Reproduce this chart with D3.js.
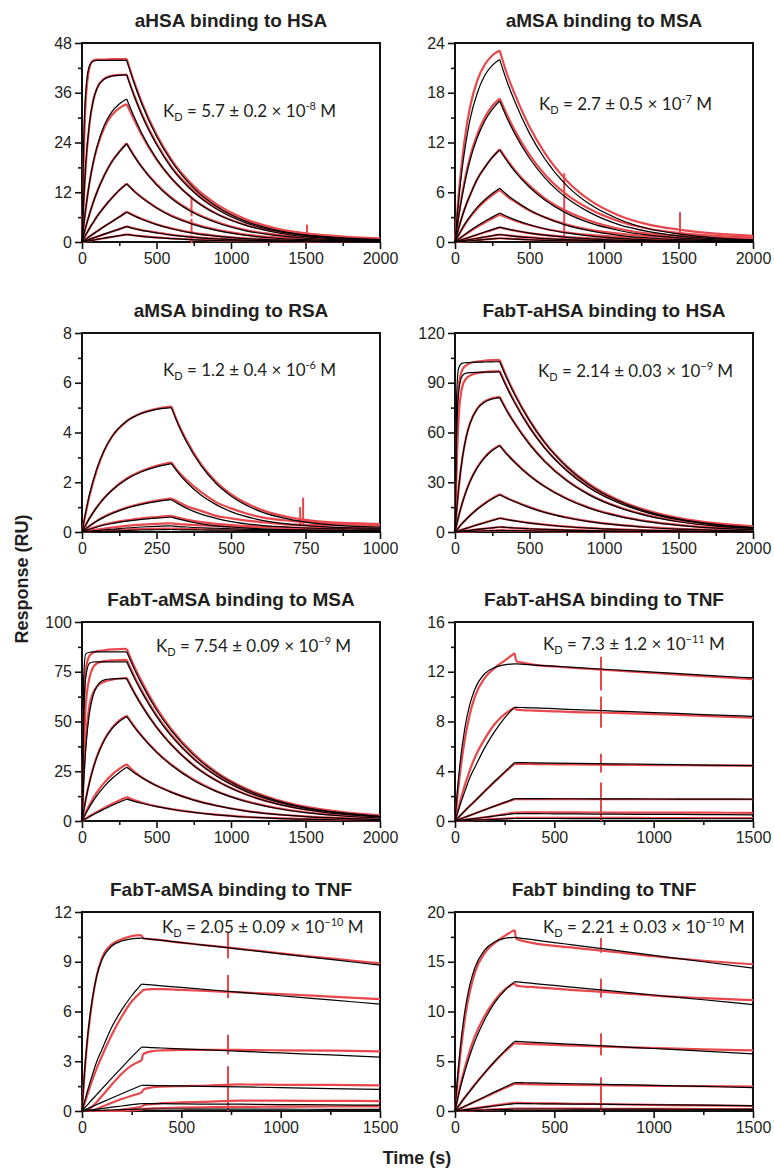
<!DOCTYPE html>
<html>
<head>
<meta charset="utf-8">
<script src="https://cdnjs.cloudflare.com/ajax/libs/d3/7.8.5/d3.min.js"></script>
<style>
body{margin:0;background:#fff;}
svg text{font-family:"Liberation Sans",Arial,sans-serif;fill:#231f20;}
.title{font-weight:bold;font-size:19px;}
.label{font-weight:bold;font-size:18px;}
.kd{font-family:Lato,"Open Sans",sans-serif;font-size:17px;}
</style>
</head>
<body>
<svg id="sensorgrams"></svg>
<script>

// panel titles and the K_D annotation of each panel
var titles = ["aHSA binding to HSA","aMSA binding to MSA","aMSA binding to RSA","FabT-aHSA binding to HSA",
              "FabT-aMSA binding to MSA","FabT-aHSA binding to TNF","FabT-aMSA binding to TNF","FabT binding to TNF"];
var kdValue = ["5.7 \u00b1 0.2","2.7 \u00b1 0.5","1.2 \u00b1 0.4","2.14 \u00b1 0.03",
               "7.54 \u00b1 0.09","7.3 \u00b1 1.2","2.05 \u00b1 0.09","2.21 \u00b1 0.03"];
var kdExp = ["-8","-7","-6","\u22129","\u22129","\u221211","\u221210","\u221210"];

// axis ranges
var xMax = [2000,2000,1000,2000,2000,1500,1500,1500];
var xStep = [500,500,250,500,500,500,500,500];
var yMax = [48,24,8,120,100,16,12,20];
var yStep = [12,6,2,30,25,4,3,5];

// end of injection (s)
var tInject = 300;

// sampling times (s)
var tLong = [0,10,25,50,75,100,150,200,250,300,350,400,500,600,750,900,1100,1300,1500,1750,2000];
var tShort = [0,10,25,50,75,100,150,200,250,300,325,350,400,450,500,600,700,800,900,1000];
var tTnf = [0,10,25,50,75,100,150,200,250,300,310,350,400,500,600,800,1000,1250,1500];

// aHSA -> HSA (RU)
var fit1 = [
 [0,22.0,36.2,42.5,43.6,43.8,43.8,43.8,43.8,43.8,38.3,33.4,25.5,19.5,13.0,8.7,5.0,2.9,1.7,1.0,0.6],
 [0,8.9,18.7,28.7,34.1,37.0,39.3,40.0,40.2,40.3,35.2,30.7,23.5,17.9,12.0,8.0,4.6,2.7,1.6,0.9,0.5],
 [0,3.5,8.0,14.3,19.2,22.9,28.2,31.4,33.3,34.5,30.2,26.3,20.1,15.4,10.2,6.8,4.0,2.3,1.3,0.7,0.35],
 [0,1.5,3.6,6.7,9.5,12.0,16.1,19.3,21.7,23.7,20.7,18.1,13.8,10.5,7.0,4.7,2.7,1.6,0.9,0.5,0.25],
 [0,0.7,1.7,3.3,4.7,6.1,8.5,10.6,12.5,14.0,12.2,10.7,8.2,6.2,4.2,2.8,1.6,0.9,0.55,0.3,0.14],
 [0,0.27,0.66,1.3,1.95,2.55,3.75,4.9,6.05,7.2,6.3,5.5,4.2,3.2,2.1,1.4,0.8,0.5,0.3,0.15,0.07],
 [0,0.13,0.32,0.64,0.96,1.28,1.9,2.5,3.1,3.7,3.2,2.8,2.2,1.65,1.1,0.73,0.43,0.25,0.14,0.07,0.04],
 [0,0.06,0.15,0.31,0.46,0.62,0.92,1.22,1.51,1.8,1.57,1.37,1.05,0.8,0.53,0.36,0.21,0.12,0.07,0.04,0.02]];
var obs1 = [
 [0,18,34,42,43.8,44.0,44.0,44.1,44.1,44.2,38.6,33.8,25.9,19.9,13.5,9.2,5.5,3.3,2.1,1.3,0.85],
 [0,8.5,18.2,28.4,34.0,37.0,39.4,40.1,40.3,40.4,35.4,31.0,23.8,18.2,12.4,8.4,5.0,3.1,2.0,1.2,0.8],
 [0,3.5,8.0,14.2,19.0,22.6,27.6,30.6,32.3,33.3,29.5,25.9,19.9,15.3,10.3,6.9,4.1,2.5,1.6,1.0,0.7],
 [0,1.5,3.6,6.7,9.5,12.0,16.1,19.4,21.8,23.8,20.8,18.2,14.0,10.7,7.2,4.9,2.9,1.8,1.1,0.7,0.5],
 [0,0.7,1.7,3.3,4.7,6.1,8.5,10.6,12.5,14.1,12.3,10.8,8.3,6.4,4.4,3.0,1.8,1.1,0.7,0.45,0.35],
 [0,0.27,0.66,1.3,1.95,2.55,3.75,4.9,6.05,7.3,6.4,5.6,4.3,3.3,2.2,1.5,0.9,0.6,0.4,0.3,0.25],
 [0,0.13,0.32,0.64,0.96,1.28,1.9,2.5,3.1,3.8,3.3,2.9,2.3,1.75,1.2,0.8,0.5,0.3,0.2,0.15,0.12],
 [0,0.06,0.15,0.31,0.46,0.62,0.92,1.22,1.51,1.85,1.6,1.4,1.1,0.85,0.58,0.4,0.25,0.15,0.1,0.08,0.06]];

// aMSA -> MSA
var fit2 = [
 [0,2.2,5.1,9.1,12.2,14.7,18.0,20.1,21.3,22.0,19.3,17.0,13.1,10.1,6.8,4.6,2.75,1.6,0.97,0.5,0.26],
 [0,1.3,3.1,5.7,7.9,9.8,12.6,14.6,16.0,17.0,14.9,13.1,10.1,7.8,5.3,3.6,2.1,1.26,0.75,0.39,0.2],
 [0,0.7,1.7,3.2,4.5,5.6,7.6,9.0,10.2,11.1,9.75,8.55,6.6,5.1,3.45,2.33,1.39,0.82,0.49,0.26,0.13],
 [0,0.36,0.89,1.69,2.42,3.07,4.2,5.1,5.85,6.5,5.7,5.0,3.87,2.98,2.0,1.37,0.81,0.48,0.29,0.15,0.08],
 [0,0.15,0.36,0.7,1.03,1.35,1.95,2.5,3.0,3.5,3.07,2.7,2.08,1.6,1.09,0.74,0.44,0.26,0.15,0.08,0.04],
 [0,0.06,0.15,0.3,0.45,0.6,0.9,1.2,1.5,1.8,1.58,1.39,1.07,0.82,0.56,0.38,0.23,0.13,0.08,0.04,0.02],
 [0,0.03,0.08,0.15,0.23,0.3,0.45,0.6,0.75,0.9,0.79,0.69,0.54,0.41,0.28,0.19,0.11,0.07,0.04,0.02,0.01],
 [0,0.015,0.04,0.075,0.11,0.15,0.23,0.3,0.38,0.45,0.4,0.35,0.27,0.2,0.14,0.1,0.06,0.03,0.02,0.01,0.005]];
var obs2 = [
 [0,2.5,5.8,10.2,13.6,16.2,19.5,21.4,22.5,23.1,20.2,17.9,13.9,10.8,7.4,5.1,3.2,2.1,1.5,1.0,0.75],
 [0,1.4,3.3,6.0,8.3,10.2,13.0,15.0,16.4,17.3,15.3,13.5,10.5,8.2,5.7,4.0,2.5,1.6,1.1,0.75,0.55],
 [0,0.7,1.7,3.2,4.5,5.6,7.6,9.0,10.2,11.2,9.9,8.7,6.8,5.3,3.7,2.6,1.6,1.0,0.75,0.55,0.45],
 [0,0.34,0.85,1.62,2.33,2.96,4.05,4.93,5.66,6.3,5.5,4.9,3.8,3.0,2.1,1.5,1.0,0.7,0.55,0.45,0.4],
 [0,0.14,0.34,0.66,0.97,1.27,1.84,2.36,2.83,3.3,2.95,2.6,2.05,1.6,1.15,0.85,0.6,0.45,0.4,0.35,0.3],
 [0,0.06,0.15,0.3,0.44,0.58,0.88,1.17,1.46,1.75,1.55,1.38,1.08,0.85,0.6,0.45,0.32,0.25,0.22,0.2,0.18],
 [0,0.03,0.08,0.15,0.23,0.3,0.45,0.6,0.75,0.9,0.8,0.7,0.56,0.45,0.33,0.25,0.18,0.15,0.13,0.12,0.11],
 [0,0.015,0.04,0.075,0.11,0.15,0.23,0.3,0.38,0.45,0.4,0.36,0.29,0.23,0.17,0.13,0.1,0.08,0.07,0.07,0.06]];

// aMSA -> RSA
var fit3 = [
 [0,0.66,1.5,2.56,3.3,3.83,4.46,4.77,4.93,5.0,4.26,3.64,2.66,1.95,1.45,0.82,0.5,0.33,0.24,0.2],
 [0,0.23,0.55,1.0,1.37,1.67,2.12,2.42,2.62,2.75,2.35,2.01,1.48,1.1,0.82,0.48,0.31,0.22,0.17,0.15],
 [0,0.1,0.24,0.44,0.6,0.74,0.96,1.11,1.22,1.3,1.12,0.96,0.72,0.55,0.42,0.27,0.19,0.14,0.12,0.11],
 [0,0.05,0.11,0.2,0.28,0.34,0.44,0.51,0.56,0.6,0.52,0.45,0.33,0.25,0.2,0.13,0.09,0.07,0.06,0.055],
 [0,0.01,0.03,0.06,0.09,0.11,0.16,0.2,0.23,0.25,0.22,0.2,0.17,0.15,0.13,0.1,0.08,0.07,0.06,0.05],
 [0,0.004,0.01,0.02,0.03,0.04,0.06,0.08,0.09,0.1,0.09,0.085,0.08,0.075,0.07,0.06,0.055,0.05,0.05,0.05]];
var obs3 = [
 [0,0.6,1.45,2.5,3.28,3.82,4.45,4.78,4.95,5.05,4.3,3.7,2.72,2.02,1.52,0.9,0.58,0.42,0.35,0.3],
 [0,0.22,0.55,1.0,1.38,1.68,2.15,2.45,2.66,2.8,2.4,2.1,1.6,1.2,0.95,0.6,0.45,0.38,0.35,0.32],
 [0,0.1,0.24,0.45,0.62,0.76,0.98,1.14,1.26,1.35,1.2,1.05,0.85,0.65,0.55,0.4,0.3,0.28,0.3,0.28],
 [0,0.05,0.12,0.22,0.3,0.37,0.47,0.55,0.6,0.65,0.57,0.5,0.4,0.33,0.28,0.22,0.18,0.17,0.18,0.17],
 [0,0.02,0.05,0.1,0.14,0.18,0.25,0.3,0.33,0.35,0.32,0.3,0.27,0.24,0.22,0.19,0.16,0.15,0.15,0.14],
 [0,0.01,0.02,0.04,0.06,0.08,0.1,0.12,0.13,0.14,0.13,0.12,0.11,0.1,0.1,0.09,0.08,0.08,0.08,0.08]];

// FabT-aHSA -> HSA
var fit4 = [
 [0,80,99,101.8,102.1,102.2,102.4,102.5,102.6,102.7,92.2,82.9,67.0,54.0,39.2,28.4,18.6,12.1,7.9,4.6,2.7],
 [0,55,85,94.3,95.8,96.1,96.3,96.4,96.4,96.5,86.7,77.9,62.9,50.8,36.9,26.7,17.5,11.4,7.4,4.3,2.5],
 [0,12.1,27.0,45.0,57.1,65.2,74.3,78.4,80.2,81.0,72.7,65.4,52.8,42.6,30.9,22.4,14.7,9.6,6.2,3.6,2.1],
 [0,4.1,9.7,17.8,24.5,30.2,38.8,44.9,49.1,52.0,46.7,42.0,33.9,27.4,19.9,14.4,9.4,6.1,4.0,2.3,1.35],
 [0,1.1,2.7,5.3,7.6,9.8,13.7,17.1,20.0,22.5,20.2,18.2,14.7,11.8,8.6,6.2,4.1,2.7,1.7,1.0,0.6],
 [0,0.3,0.74,1.47,2.18,2.88,4.3,5.6,6.95,8.3,7.45,6.7,5.4,4.37,3.17,2.3,1.5,0.98,0.64,0.37,0.22],
 [0,0.1,0.26,0.52,0.77,1.02,1.53,2.02,2.52,3.0,2.7,2.42,1.96,1.58,1.15,0.83,0.54,0.35,0.23,0.13,0.08],
 [0,0.03,0.08,0.17,0.25,0.34,0.5,0.67,0.84,1.0,0.9,0.81,0.65,0.53,0.38,0.28,0.18,0.12,0.08,0.05,0.03]];
var obs4 = [
 [0,55,88,98,100.5,101.8,102.8,103.3,103.6,103.8,93,83.5,67.5,54.5,39.8,29,19.2,12.8,8.6,5.3,3.4],
 [0,35,70,88,92.5,94.3,95.8,96.5,96.9,97.1,87.3,78.5,63.4,51.2,37.3,27.1,17.9,11.8,7.8,4.7,2.9],
 [0,11.5,26.5,45.0,57.3,65.5,74.6,78.8,80.7,81.5,73.1,65.8,53.2,43.0,31.3,22.8,15.0,9.9,6.5,3.9,2.4],
 [0,4.0,9.7,17.9,24.7,30.5,39.2,45.3,49.5,52.4,47.0,42.3,34.2,27.7,20.2,14.7,9.7,6.4,4.3,2.6,1.6],
 [0,1.1,2.7,5.4,7.7,10.0,14.0,17.4,20.3,22.8,20.5,18.5,15.0,12.1,8.8,6.4,4.3,2.9,1.9,1.2,0.8],
 [0,0.3,0.75,1.5,2.2,2.9,4.35,5.7,7.05,8.4,7.55,6.8,5.5,4.45,3.25,2.4,1.6,1.05,0.7,0.45,0.3],
 [0,0.1,0.26,0.52,0.77,1.02,1.53,2.02,2.52,3.0,2.7,2.42,1.96,1.58,1.15,0.85,0.56,0.38,0.26,0.17,0.12],
 [0,0.03,0.08,0.17,0.25,0.34,0.5,0.67,0.84,1.0,0.9,0.81,0.66,0.54,0.4,0.3,0.2,0.14,0.1,0.07,0.05]];

// FabT-aMSA -> MSA
var fit5 = [
 [0,70,84,84.8,85,85,85,85,85,85,76.5,68.9,55.8,45.3,33.1,24.1,15.8,10.4,6.8,4.1,2.4],
 [0,45,72,79.3,79.9,80,80,80,80,80,72,64.9,52.6,42.6,31.1,22.7,14.9,9.8,6.4,3.8,2.2],
 [0,17.6,36.2,54.2,63.2,67.6,70.9,71.4,71.5,71.5,64.4,58.0,47.0,38.1,27.8,20.3,13.3,8.7,5.7,3.4,2.0],
 [0,4.5,10.6,19.3,26.3,32.1,40.6,46.3,50.0,52.5,47.3,42.6,34.5,28.0,20.4,14.9,9.8,6.4,4.2,2.5,1.5],
 [0,1.5,3.7,7.0,10.0,12.7,17.4,21.2,24.4,27.0,24.3,21.9,17.7,14.4,10.5,7.7,5.0,3.3,2.2,1.3,0.75],
 [0,0.45,1.1,2.15,3.15,4.15,6.0,7.8,9.45,11.0,9.9,8.9,7.2,5.9,4.3,3.1,2.0,1.3,0.9,0.5,0.3]];
var obs5 = [
 [0,50,76,83,84.6,85.3,85.8,86.2,86.4,86.5,77.8,70.2,56.9,46.2,33.8,24.7,16.3,10.8,7.2,4.5,2.9],
 [0,30,58,72,77.3,79.2,80.3,80.7,80.9,81,72.9,65.7,53.2,43.2,31.5,23,15.1,9.9,6.5,3.9,2.3],
 [0,20,40,58,64.5,67.5,70,71,71.6,72,64.8,58.4,47.3,38.4,28.0,20.5,13.4,8.8,5.8,3.5,2.1],
 [0,4.6,10.8,19.6,26.7,32.5,41.0,46.7,50.4,52.9,47.6,42.9,34.8,28.3,20.7,15.1,10.0,6.6,4.4,2.7,1.7],
 [0,1.8,4.3,8.0,11.4,14.4,19.3,23.2,26.2,28.5,24.8,22.0,17.8,14.5,10.6,7.8,5.1,3.4,2.3,1.4,0.85],
 [0,0.5,1.2,2.4,3.5,4.55,6.6,8.55,10.35,12.0,10.5,9.3,7.4,6.0,4.4,3.2,2.1,1.4,0.95,0.6,0.4]];

// FabT-aHSA -> TNF
var fit6 = [
 [0,2.1,4.6,7.5,9.4,10.6,11.85,12.35,12.56,12.64,12.63,12.59,12.54,12.45,12.35,12.16,11.97,11.73,11.5],
 [0,0.51,1.25,2.4,3.5,4.32,5.9,7.2,8.3,9.15,9.14,9.12,9.09,9.03,8.96,8.84,8.72,8.56,8.42],
 [0,0.17,0.42,0.83,1.22,1.6,2.4,3.2,3.95,4.7,4.7,4.69,4.68,4.66,4.64,4.6,4.56,4.5,4.45],
 [0,0.06,0.15,0.3,0.45,0.6,0.9,1.2,1.5,1.8,1.8,1.8,1.8,1.79,1.79,1.78,1.77,1.76,1.75],
 [0,0.02,0.05,0.1,0.15,0.2,0.3,0.4,0.5,0.6,0.6,0.6,0.59,0.58,0.57,0.55,0.53,0.52,0.5],
 [0,0.007,0.017,0.035,0.05,0.07,0.1,0.13,0.17,0.2,0.2,0.2,0.2,0.2,0.19,0.19,0.19,0.18,0.18]];
var obs6 = [
 [0,1.6,3.8,6.6,8.6,10.0,11.5,12.3,12.9,13.5,12.85,12.7,12.55,12.42,12.3,12.1,11.9,11.65,11.4],
 [0,0.6,1.5,2.9,4.1,5.1,6.6,7.8,8.6,9.1,8.95,8.9,8.88,8.82,8.76,8.7,8.6,8.45,8.3],
 [0,0.17,0.42,0.83,1.22,1.6,2.4,3.15,3.9,4.6,4.6,4.6,4.58,4.56,4.55,4.52,4.5,4.47,4.45],
 [0,0.06,0.15,0.3,0.45,0.6,0.9,1.2,1.48,1.75,1.75,1.76,1.76,1.76,1.75,1.75,1.75,1.75,1.75],
 [0,0.02,0.05,0.1,0.15,0.2,0.3,0.42,0.55,0.68,0.68,0.69,0.69,0.69,0.69,0.68,0.68,0.67,0.66],
 [0,0.01,0.02,0.04,0.06,0.08,0.12,0.16,0.2,0.24,0.25,0.25,0.25,0.25,0.25,0.25,0.24,0.24,0.24]];

// FabT-aMSA -> TNF
var fit7 = [
 [0,1.9,4.1,6.6,8.2,9.1,9.95,10.25,10.38,10.42,10.41,10.35,10.29,10.15,10.02,9.75,9.48,9.14,8.8],
 [0,0.45,1.1,2.1,3.0,3.7,5.06,6.1,6.95,7.65,7.64,7.6,7.55,7.45,7.35,7.15,6.95,6.7,6.45],
 [0,0.14,0.34,0.68,1.0,1.33,1.98,2.62,3.25,3.85,3.85,3.82,3.8,3.75,3.7,3.6,3.5,3.38,3.25],
 [0,0.05,0.13,0.26,0.39,0.52,0.78,1.04,1.3,1.55,1.55,1.54,1.53,1.51,1.49,1.45,1.41,1.35,1.3],
 [0,0.015,0.04,0.075,0.11,0.15,0.23,0.3,0.38,0.45,0.45,0.45,0.44,0.43,0.42,0.41,0.39,0.37,0.35],
 [0,0.004,0.01,0.02,0.03,0.04,0.06,0.08,0.1,0.12,0.12,0.12,0.12,0.12,0.11,0.11,0.11,0.1,0.1]];
var obs7 = [
 [0,1.8,4.0,6.5,8.2,9.2,10.05,10.35,10.55,10.6,10.4,10.36,10.3,10.15,10.02,9.78,9.5,9.2,8.9],
 [0,0.35,0.9,1.8,2.6,3.3,4.6,5.7,6.6,7.2,7.3,7.35,7.35,7.3,7.25,7.15,7.05,6.9,6.75],
 [0,0,0.05,0.25,0.55,0.9,1.6,2.25,2.75,3.05,3.45,3.6,3.65,3.68,3.68,3.68,3.66,3.64,3.6],
 [0,0,0,0.02,0.12,0.25,0.5,0.72,0.92,1.1,1.3,1.42,1.47,1.5,1.52,1.6,1.58,1.57,1.55],
 [0,0,0,0,0,0,0.02,0.08,0.16,0.25,0.35,0.42,0.47,0.52,0.55,0.62,0.62,0.61,0.6],
 [0,0,0,0,0,0,0,0.01,0.04,0.08,0.12,0.15,0.18,0.2,0.22,0.25,0.26,0.27,0.28]];

// FabT -> TNF
var fit8 = [
 [0,2.75,6.1,10.1,12.7,14.4,16.2,17.0,17.35,17.45,17.42,17.32,17.19,16.93,16.68,16.16,15.64,15.0,14.35],
 [0,0.9,2.2,4.0,5.6,7.0,9.2,10.9,12.1,13.0,12.98,12.9,12.81,12.62,12.43,12.04,11.66,11.18,10.7],
 [0,0.28,0.69,1.36,2.0,2.63,3.85,5.0,6.05,7.0,6.99,6.95,6.9,6.8,6.7,6.49,6.28,6.02,5.75],
 [0,0.1,0.24,0.48,0.72,0.96,1.44,1.92,2.39,2.85,2.85,2.84,2.82,2.78,2.74,2.66,2.58,2.47,2.35],
 [0,0.025,0.06,0.13,0.19,0.25,0.38,0.5,0.63,0.75,0.75,0.74,0.73,0.72,0.7,0.67,0.63,0.59,0.55],
 [0,0.007,0.017,0.035,0.05,0.07,0.1,0.13,0.17,0.2,0.2,0.2,0.2,0.2,0.19,0.19,0.18,0.17,0.16]];
var obs8 = [
 [0,2.3,5.3,9.3,12.0,13.9,15.9,16.9,17.6,18.2,17.3,17.05,16.85,16.6,16.4,16.0,15.55,15.1,14.75],
 [0,1.0,2.4,4.4,6.1,7.5,9.6,11.1,12.2,12.85,12.6,12.5,12.45,12.3,12.15,11.9,11.6,11.35,11.15],
 [0,0.28,0.7,1.38,2.03,2.66,3.85,4.95,5.95,6.85,6.8,6.75,6.72,6.65,6.58,6.45,6.33,6.2,6.1],
 [0,0.1,0.24,0.47,0.7,0.93,1.39,1.85,2.3,2.75,2.72,2.7,2.68,2.65,2.62,2.58,2.53,2.49,2.45],
 [0,0.03,0.07,0.14,0.21,0.28,0.42,0.56,0.7,0.82,0.82,0.8,0.78,0.76,0.73,0.68,0.62,0.56,0.5],
 [0,0.01,0.02,0.04,0.06,0.08,0.12,0.16,0.2,0.24,0.24,0.24,0.24,0.23,0.23,0.22,0.21,0.2,0.2]];

// injection artefacts in the raw traces: [time, low, high]
var spikes = [
 [[735,6.2,10.6],[735,2.0,5.6],[735,-0.3,1.6],[1510,1.4,4.2]],
 [[733,0,8.3],[1510,0.8,3.6]],
 [[732,0.3,1.0],[742,0.3,1.38]],
 [],
 [],
 [[735,10.5,13.2],[735,7.5,10.0],[735,3.9,5.4],[735,0,3.1]],
 [[735,9.2,10.8],[735,6.8,8.2],[735,3.4,4.6],[735,0,2.7]],
 [[735,15.9,17.4],[735,11.4,13.3],[735,5.6,7.8],[735,0,3.4]]];

var times = [tLong,tLong,tShort,tLong,tLong,tTnf,tTnf,tTnf];
var fits = [fit1,fit2,fit3,fit4,fit5,fit6,fit7,fit8];
var observed = [obs1,obs2,obs3,obs4,obs5,obs6,obs7,obs8];

// layout
var screen = {width:774, height:1173};
var graph = {width:298, height:199};
var colLeft = [82,455];
var rowTop = [43,333,622,912];
var kdPos = [[81,74],[84,67],[81,43],[83,44],[74,30],[88,28],[80,21],[88,21]];

var svg = d3.select("#sensorgrams")
    .attr("width",screen.width)
    .attr("height",screen.height)
    .style("background","#fff");

var initGraph = function(i)
{
    var left = colLeft[i%2];
    var top = rowTop[Math.floor(i/2)];

    var g = svg.append("g")
        .classed("graph",true)
        .attr("transform","translate("+left+","+top+")");

    var xScale = d3.scaleLinear()
        .domain([0,xMax[i]])
        .range([0,graph.width]);

    var yScale = d3.scaleLinear()
        .domain([0,yMax[i]])
        .range([graph.height,0]);

    createAxes(g,i,xScale,yScale);
    drawCurves(g,i,xScale,yScale);
    createLabels(g,i);
}

var createAxes = function(g,i,xScale,yScale)
{
    var xMajor = d3.range(0,xMax[i]+1,xStep[i]);
    var xMinor = d3.range(xStep[i]/2,xMax[i],xStep[i]);
    var yMajor = d3.range(0,yMax[i]+0.001,yStep[i]);
    var yMinor = d3.range(yStep[i]/2,yMax[i],yStep[i]);

    g.append("g")
        .attr("transform","translate(0,"+graph.height+")")
        .call(d3.axisBottom(xScale).tickValues(xMajor).tickSize(7).tickPadding(4).tickSizeOuter(0).tickFormat(d3.format("d")));
    g.append("g")
        .attr("transform","translate(0,"+graph.height+")")
        .call(d3.axisBottom(xScale).tickValues(xMinor).tickSize(4).tickSizeOuter(0).tickFormat(""))
        .select(".domain").remove();

    g.append("g")
        .call(d3.axisLeft(yScale).tickValues(yMajor).tickSize(7).tickPadding(3).tickSizeOuter(0).tickFormat(d3.format("d")));
    g.append("g")
        .call(d3.axisLeft(yScale).tickValues(yMinor).tickSize(4).tickSizeOuter(0).tickFormat(""))
        .select(".domain").remove();

    g.selectAll(".tick line").attr("stroke","#111").attr("stroke-width",1.6);
    g.selectAll(".tick text")
        .attr("font-size",16)
        .attr("font-family","'Liberation Sans', Arial, sans-serif")
        .attr("fill","#231f20");

    g.append("rect")
        .attr("width",graph.width)
        .attr("height",graph.height)
        .attr("fill","none")
        .attr("stroke","#111")
        .attr("stroke-width",2);
}

var drawCurves = function(g,i,xScale,yScale)
{
    var line = d3.line()
        .x(function(d){return xScale(d[0]);})
        .y(function(d){return yScale(d[1]);})
        .curve(d3.curveMonotoneX);

    // association and dissociation drawn as separate pieces so the kink at the end of injection stays sharp
    var pieces = function(vals)
    {
        var pts = times[i].map(function(t,k){return [t,vals[k]];});
        return [pts.filter(function(p){return p[0]<=tInject;}),
                pts.filter(function(p){return p[0]>=tInject;})];
    }

    var red = g.append("g").classed("observed",true);
    observed[i].forEach(function(vals)
    {
        red.selectAll(null)
            .data(pieces(vals))
            .enter()
            .append("path")
            .attr("d",line)
            .attr("fill","none")
            .attr("stroke","#e8474c")
            .attr("stroke-width",2.2)
            .attr("stroke-linejoin","round");
    });

    red.selectAll("line")
        .data(spikes[i])
        .enter()
        .append("line")
        .attr("x1",function(d){return xScale(d[0]);})
        .attr("x2",function(d){return xScale(d[0]);})
        .attr("y1",function(d){return yScale(d[1]);})
        .attr("y2",function(d){return yScale(d[2]);})
        .attr("stroke","#e8474c")
        .attr("stroke-width",2);

    var black = g.append("g").classed("fit",true);
    fits[i].forEach(function(vals)
    {
        black.selectAll(null)
            .data(pieces(vals))
            .enter()
            .append("path")
            .attr("d",line)
            .attr("fill","none")
            .attr("stroke","#000")
            .attr("stroke-width",1.2);
    });
}

var createLabels = function(g,i)
{
    g.append("text")
        .classed("title",true)
        .attr("text-anchor","middle")
        .attr("x",graph.width/2)
        .attr("y",-16)
        .text(titles[i]);

    var kd = g.append("text")
        .classed("kd",true)
        .attr("x",kdPos[i][0])
        .attr("y",kdPos[i][1]);
    kd.append("tspan").text("K");
    kd.append("tspan").attr("font-size",11).attr("dy",4).text("D");
    kd.append("tspan").attr("dy",-4).text(" = "+kdValue[i]+" \u00d7 10");
    kd.append("tspan").attr("font-size",11).attr("dy",-7).text(kdExp[i]);
    kd.append("tspan").attr("dy",7).text(" M");
}

d3.range(8).forEach(initGraph);

svg.append("text")
    .classed("label",true)
    .attr("text-anchor","middle")
    .attr("x",417)
    .attr("y",1164)
    .text("Time (s)");

svg.append("text")
    .classed("label",true)
    .attr("text-anchor","middle")
    .attr("transform","translate(28,579) rotate(-90)")
    .text("Response (RU)");

</script>
</body>
</html>
